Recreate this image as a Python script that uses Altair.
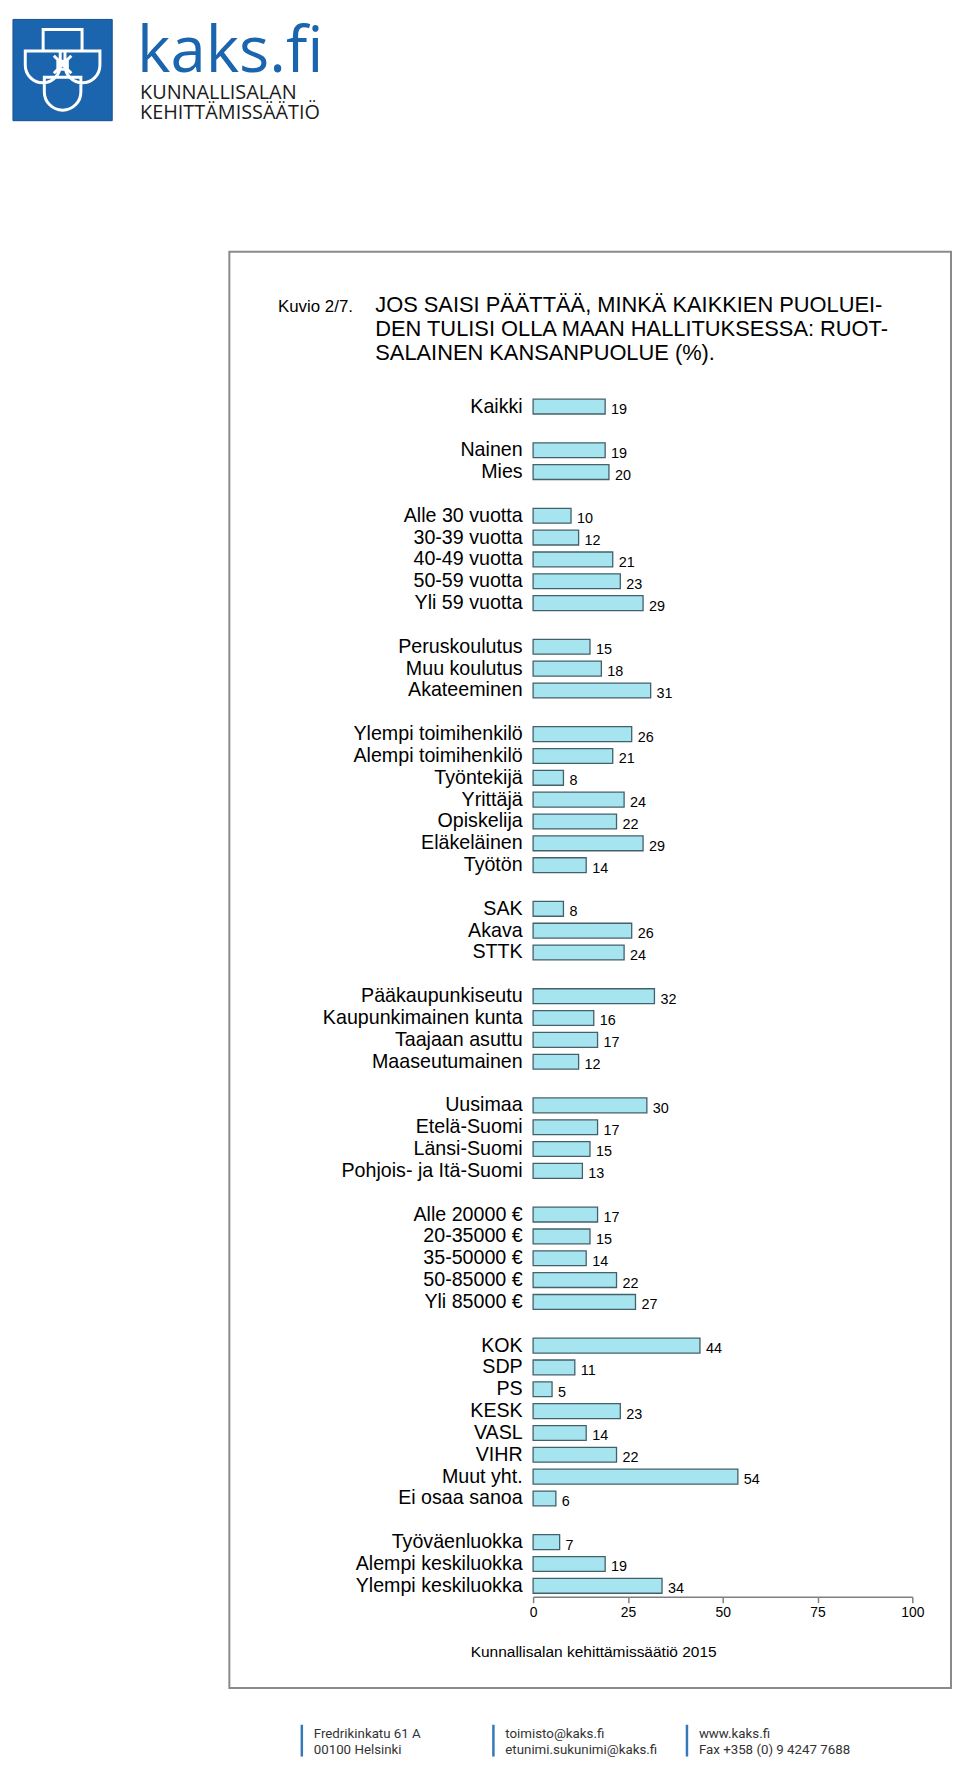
import altair as alt
import pandas as pd

# ---------------- data ----------------
kaikki_labels = ["Kaikki"]
kaikki_values = [19]

sukupuoli_labels = ["Nainen", "Mies"]
sukupuoli_values = [19, 20]

ika_labels = ["Alle 30 vuotta", "30-39 vuotta", "40-49 vuotta", "50-59 vuotta", "Yli 59 vuotta"]
ika_values = [10, 12, 21, 23, 29]

koulutus_labels = ["Peruskoulutus", "Muu koulutus", "Akateeminen"]
koulutus_values = [15, 18, 31]

asema_labels = ["Ylempi toimihenkilö", "Alempi toimihenkilö", "Työntekijä", "Yrittäjä",
                "Opiskelija", "Eläkeläinen", "Työtön"]
asema_values = [26, 21, 8, 24, 22, 29, 14]

liitto_labels = ["SAK", "Akava", "STTK"]
liitto_values = [8, 26, 24]

kunta_labels = ["Pääkaupunkiseutu", "Kaupunkimainen kunta", "Taajaan asuttu", "Maaseutumainen"]
kunta_values = [32, 16, 17, 12]

alue_labels = ["Uusimaa", "Etelä-Suomi", "Länsi-Suomi", "Pohjois- ja Itä-Suomi"]
alue_values = [30, 17, 15, 13]

tulot_labels = ["Alle 20000 €", "20-35000 €", "35-50000 €", "50-85000 €", "Yli 85000 €"]
tulot_values = [17, 15, 14, 22, 27]

puolue_labels = ["KOK", "SDP", "PS", "KESK", "VASL", "VIHR", "Muut yht.", "Ei osaa sanoa"]
puolue_values = [44, 11, 5, 23, 14, 22, 54, 6]

luokka_labels = ["Työväenluokka", "Alempi keskiluokka", "Ylempi keskiluokka"]
luokka_values = [7, 19, 34]

x_ticks = [0, 25, 50, 75, 100]

title_prefix = "Kuvio 2/7."
title_lines = ["JOS SAISI PÄÄTTÄÄ, MINKÄ KAIKKIEN PUOLUEI-",
               "DEN TULISI OLLA MAAN HALLITUKSESSA: RUOT-",
               "SALAINEN KANSANPUOLUE (%)."]
source_text = "Kunnallisalan kehittämissäätiö 2015"
logo_big = "kaks.fi"
logo_lines = ["KUNNALLISALAN", "KEHITTÄMISSÄÄTIÖ"]
footer_cols = [["Fredrikinkatu 61 A", "00100 Helsinki"],
               ["toimisto@kaks.fi", "etunimi.sukunimi@kaks.fi"],
               ["www.kaks.fi", "Fax +358 (0) 9 4247 7688"]]

groups = [
    (kaikki_labels, kaikki_values),
    (sukupuoli_labels, sukupuoli_values),
    (ika_labels, ika_values),
    (koulutus_labels, koulutus_values),
    (asema_labels, asema_values),
    (liitto_labels, liitto_values),
    (kunta_labels, kunta_values),
    (alue_labels, alue_values),
    (tulot_labels, tulot_values),
    (puolue_labels, puolue_values),
    (luokka_labels, luokka_values),
]

domain = []
rows = []
for gi, (labs, vals) in enumerate(groups):
    if gi > 0:
        domain.append(f"_gap{gi}")
    for lab, val in zip(labs, vals):
        domain.append(lab)
        rows.append({"key": lab, "value": val})
df = pd.DataFrame(rows)

# ---------------- style ----------------
FONT = "Liberation Sans"
LOGO_FONT = "Open Sans"
FOOT_FONT = "Roboto"
BLUE = "#1B64AE"
OX, OY = 537, 392          # page position of plot origin
W, H = 382, 1210
PAD_L, PAD_T = OX - 8, OY - 8
PAD_R = 951 - PAD_L - W
PAD_B = 1757 - PAD_T - H

one = alt.Data(values=[{}])


def px(x):
    return x - OX


def py(y):
    return y - OY


def txt(text, x, y, size, color="black", font=FONT, align="left"):
    return alt.Chart(one).mark_text(
        text=text, align=align, baseline="alphabetic", fontSize=size,
        font=font, color=color
    ).encode(x=alt.value(px(x)), y=alt.value(py(y)))


y_enc = alt.Y(
    "key:N",
    scale=alt.Scale(domain=domain, paddingInner=0.32, paddingOuter=0.16),
    axis=alt.Axis(
        title=None, domain=False, ticks=False, labelFontSize=19.8, labelFont=FONT,
        labelColor="black", labelPadding=11, labelLimit=400,
        labelExpr="indexof(datum.value, '_gap') === 0 ? '' : datum.value",
    ),
)
x_enc = alt.X(
    "value:Q",
    scale=alt.Scale(domain=[0, 100], nice=False),
    axis=alt.Axis(
        values=x_ticks, grid=False, title=None, domainColor="#808080",
        tickColor="#808080", tickSize=6, domainWidth=1.5, tickWidth=1.5,
        labelFontSize=14, labelFont=FONT, labelColor="black", labelPadding=3,
        labelFlush=False,
    ),
)

bars = alt.Chart(df).mark_bar(
    fill="#A6E4EF", stroke="#44606A", strokeWidth=1.3
).encode(x=x_enc, y=y_enc)

values_txt = alt.Chart(df).mark_text(
    align="left", baseline="middle", dx=6, dy=3.5, fontSize=14.5, font=FONT, color="black"
).encode(x="value:Q", y=alt.Y("key:N"), text="value:Q")

# frame
frame = alt.Chart(one).mark_rect(
    fillOpacity=0, stroke="#8a8a8a", strokeWidth=2
).encode(x=alt.value(px(231)), x2=alt.value(px(958)),
         y=alt.value(py(247)), y2=alt.value(py(1694)))

# logo
logo_sq = alt.Chart(one).mark_rect(fill=BLUE, stroke="#15508c", strokeWidth=1).encode(
    x=alt.value(px(13)), x2=alt.value(px(113)), y=alt.value(py(13)), y2=alt.value(py(115)))
SYMBOL = ("M-0.49,-1.02H0.49V-0.48H-0.49Z "
          "M-0.94,-0.48H-0.06V-0.12A0.44,0.44 0 0 1 -0.94,-0.12Z "
          "M0.06,-0.48H0.94V-0.12A0.44,0.44 0 0 1 0.06,-0.12Z "
          "M-0.46,0.18H0.46V0.55A0.46,0.46 0 0 1 -0.46,0.55Z "
          "M-0.22,-0.36L0.22,0.08M0.22,-0.36L-0.22,0.08 "
          "M-0.12,-0.22H0.12V-0.02H-0.12Z")
logo_sym = alt.Chart(one).mark_point(
    shape=SYMBOL, filled=False, stroke="white", strokeWidth=3, size=6400, opacity=1
).encode(x=alt.value(px(63)), y=alt.value(py(64)))

layers = [frame, logo_sq, logo_sym,
          txt(logo_big, 138, 66, 64, BLUE, LOGO_FONT),
          txt(logo_lines[0], 141, 93, 20, "#1a1a1a", LOGO_FONT),
          txt(logo_lines[1], 141, 113, 20, "#1a1a1a", LOGO_FONT),
          txt(title_prefix, 280, 307.3, 17),
          txt(title_lines[0], 378, 307.3, 22),
          txt(title_lines[1], 378, 331.7, 22),
          txt(title_lines[2], 378, 355.7, 22),
          txt(source_text, 598, 1663, 15.6, align="center")]

foot_x = [304, 497, 692]
for fx, lines in zip(foot_x, footer_cols):
    layers.append(alt.Chart(one).mark_rule(color="#3579B8", strokeWidth=2.5).encode(
        x=alt.value(px(fx)), y=alt.value(py(1731)), y2=alt.value(py(1763))))
    layers.append(txt(lines[0], fx + 12, 1744, 13.4, "#333333", FOOT_FONT))
    layers.append(txt(lines[1], fx + 12, 1760, 13.4, "#333333", FOOT_FONT))

chart = alt.layer(*layers, bars, values_txt).properties(
    width=W, height=H,
    autosize=alt.AutoSizeParams(type="none"),
    padding={"left": PAD_L, "top": PAD_T, "right": PAD_R, "bottom": PAD_B},
    background="white",
).configure_view(strokeWidth=0)

chart.save("out.html", embed_options={"renderer": "svg", "actions": False})
